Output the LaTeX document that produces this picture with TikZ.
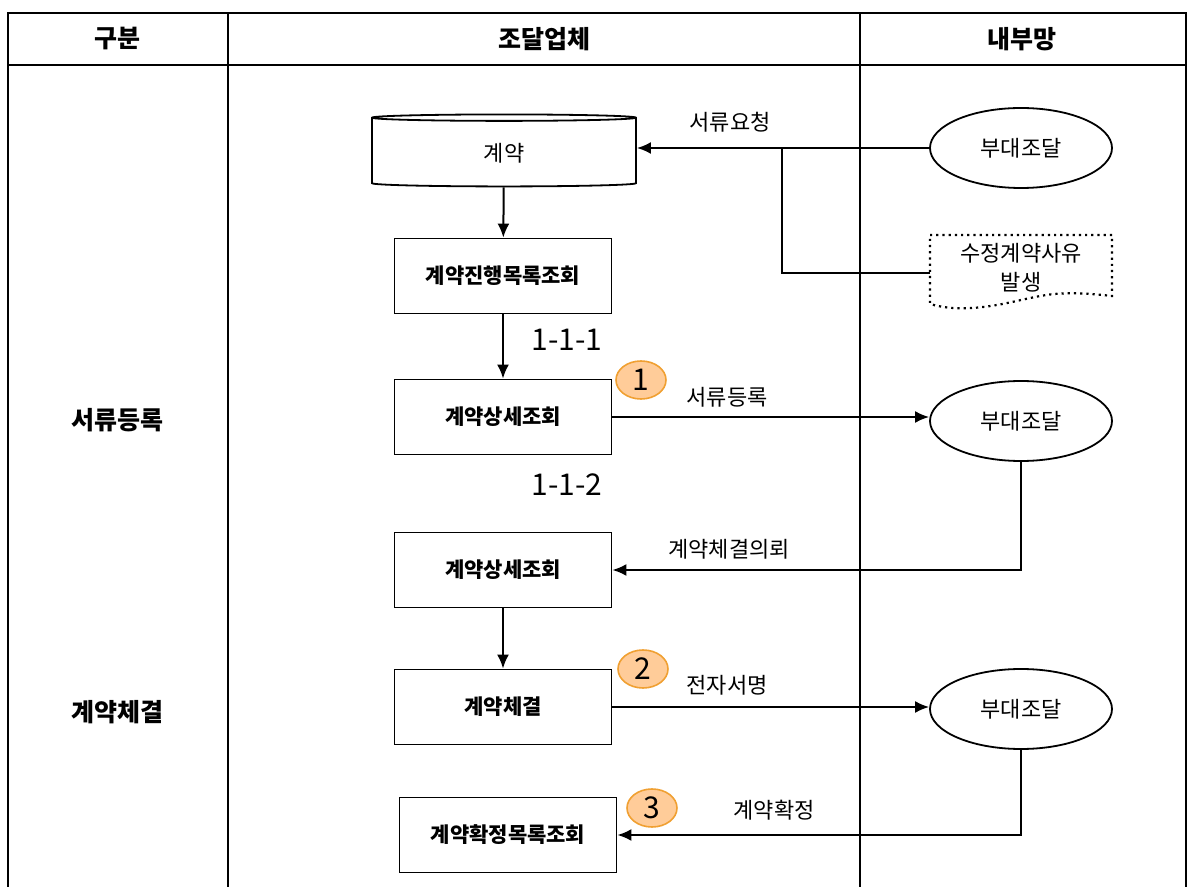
\documentclass[tikz,border=0pt]{standalone}
\usepackage{fontspec}
\setmainfont{Noto Sans CJK KR}
\usetikzlibrary{shapes.geometric,arrows.meta}
\definecolor{numfill}{RGB}{255,204,153}
\definecolor{numline}{RGB}{240,160,50}

\begin{document}
\begin{tikzpicture}[x=0.5pt, y=-0.5pt, >={Latex[length=7pt,width=6pt]},
    frame/.style={line width=1.1pt},
    wire/.style={line width=1pt},
    proc/.style={draw, line width=0.9pt, minimum width=108.5pt, minimum height=37.5pt,
        font=\fontsize{10.5}{12}\selectfont\bfseries},
    unit/.style={draw, ellipse, line width=0.9pt, minimum width=91pt, minimum height=40pt,
        font=\fontsize{11}{12}\selectfont},
    db/.style={draw, cylinder, shape border rotate=90, aspect=0.12, line width=0.9pt,
        minimum width=132pt, minimum height=36pt, font=\fontsize{11}{12}\selectfont},
    head/.style={font=\fontsize{12.5}{14}\selectfont\bfseries},
    lbl/.style={font=\fontsize{11}{14.5}\selectfont},
    code/.style={font=\fontsize{15}{16}\selectfont},
    num/.style={draw=numline, fill=numfill, ellipse, line width=0.8pt, inner sep=0pt,
        minimum width=25pt, minimum height=19pt, font=\fontsize{15}{16}\selectfont}]
    \useasboundingbox (0,0) rectangle (1190,887);

    % table
    \draw[frame] (8,887) -- (8,13) -- (1186,13) -- (1186,887);
    \draw[frame] (8,65) -- (1186,65);
    \draw[frame] (228,13) -- (228,887);
    \draw[frame] (860,13) -- (860,887);
    \node[head] (h1) at (117,39) {구분};
    \node[head] (h2) at (544,39) {조달업체};
    \node[head] (h3) at (1022,39) {내부망};
    \node[head] (s1) at (117,420) {서류등록};
    \node[head] (s2) at (117,712) {계약체결};

    % supplier side
    \node[db] (db) at (504,153) {계약};
    \node[proc] (list) at (503,276) {계약진행목록조회};
    \node[proc] (detail) at (503,417) {계약상세조회};
    \node[proc] (detail2) at (503,570) {계약상세조회};
    \node[proc] (sign) at (503,707) {계약체결};
    \node[proc] (confirm) at (508,835) {계약확정목록조회};

    % internal side
    \node[unit] (u1) at (1021,148) {부대조달};
    \node[unit] (u2) at (1021,421) {부대조달};
    \node[unit] (u3) at (1021,709) {부대조달};
    \draw[dotted, line width=1.1pt] (930,235) -- (1112,235) -- (1112,296)
        .. controls (1060,290) and (1045,295) .. (1021,300)
        .. controls (995,306) and (960,313) .. (930,304) -- cycle;
    \node[lbl, align=center] (doc) at (1021,268) {수정계약사유\\발생};
    \coordinate (docin) at (930,273);
    \coordinate (join) at (782,148);

    % connectors
    \draw[wire,->] (db) -- (list);
    \draw[wire,->] (list) -- (detail);
    \draw[wire,->] (detail2) -- (sign);
    \draw[wire,->] (u1.west) -- (db.east |- u1.west);
    \draw[wire] (docin) -| (join);
    \draw[wire,->] (detail.east) -- (detail.east -| u2.west);
    \draw[wire,->] (u2.south) |- (detail2.east);
    \draw[wire,->] (sign.east) -- (sign.east -| u3.west);
    \draw[wire,->] (u3.south) |- (confirm.east);

    \node[lbl] at (730,122) {서류요청};
    \node[lbl] at (727,397) {서류등록};
    \node[lbl] at (729,549) {계약체결의뢰};
    \node[lbl] at (727,685) {전자서명};
    \node[lbl] at (774,810) {계약확정};
    \node[code] at (567,340) {1-1-1};
    \node[code] at (567,485) {1-1-2};
    \foreach \n/\x/\y in {1/641/380, 2/643/669, 3/652/808}
    {
        \node[num] (n\n) at (\x,\y) {\n};
    }
\end{tikzpicture}
\end{document}
